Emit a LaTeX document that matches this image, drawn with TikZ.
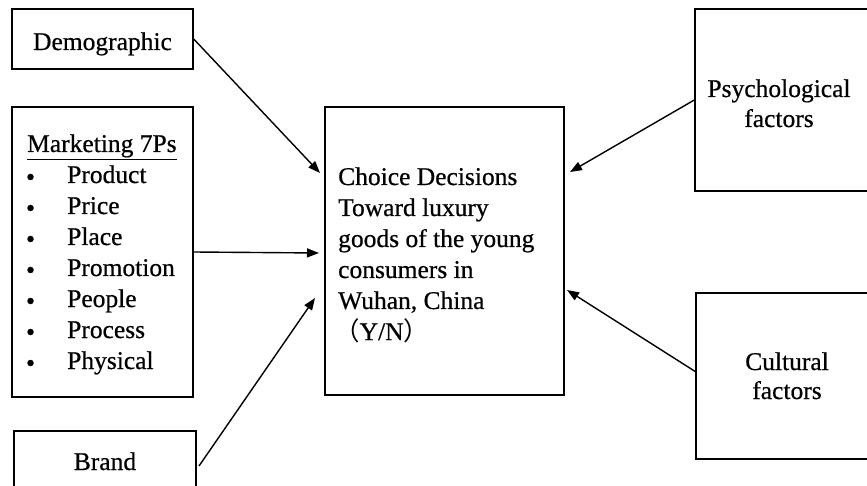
\documentclass[tikz,border=0pt]{standalone}
\usepackage{fontspec}
\setmainfont[FakeBold=0.6]{Liberation Serif}
\newfontfamily\cjkfont{Noto Sans CJK SC}
\usetikzlibrary{arrows.meta}
\tikzset{
  box/.style={draw=black, line width=1.4pt, fill=white, inner sep=0pt, minimum width=#1},
  lbl/.style={inner sep=0pt, text=black, font=\fontsize{25.5}{31}\selectfont},
  dot/.style={circle, fill=black, inner sep=0pt, minimum size=6.5pt},
  conn/.style={line width=1.4pt, -{Triangle[length=12pt,width=9pt]}},
}
\begin{document}
\begin{tikzpicture}[x=1pt,y=-1pt]
\useasboundingbox[fill=white] (0,0) rectangle (867,486);
% boxes
\node[box=181pt, minimum height=60pt] (demo) at (102.5,39) {};
\node[box=181pt, minimum height=290pt] (mkt) at (102.5,252) {};
\node[box=182pt, minimum height=79pt] (brand) at (105,470.5) {};
\node[box=239pt, minimum height=288pt] (ctr) at (444.5,251) {};
\node[box=180pt, minimum height=182pt] (psych) at (785,100) {};
\node[box=180pt, minimum height=166pt] (cult) at (786,376) {};
% texts
\node[lbl, anchor=base] (demot) at (102.5,50) {Demographic};
\node[lbl, anchor=base] (brandt) at (105,470) {Brand};
\node[lbl, anchor=base west] (mkth) at (27,152) {\underline{Marketing 7Ps}};
\foreach \t [count=\i] in {Product,Price,Place,Promotion,People,Process,Physical}{
  \node[dot] (bul\i) at (30.5,146+31*\i) {};
  \node[lbl, anchor=base west] (item\i) at (67,152+31*\i) {\t};
}
\node[lbl, anchor=base west] (ctrt) at (338,185) {\begin{tabular}[t]{@{}l@{}}
Choice Decisions\\
Toward luxury\\
goods of the young\\
consumers in\\
Wuhan, China\\
\hspace*{-4pt}{\cjkfont （}Y/N{\cjkfont ）}
\end{tabular}};
\node[lbl, anchor=base] (psycht1) at (779,97) {Psychological};
\node[lbl, anchor=base] (psycht2) at (779,127) {factors};
\node[lbl, anchor=base] (cultt1) at (787,370) {Cultural};
\node[lbl, anchor=base] (cultt2) at (787,399) {factors};
% connector ends
\coordinate (t1) at (320,173);
\coordinate (t2) at (319,253);
\coordinate (s3) at (199,466);
\coordinate (t3) at (315,298);
\coordinate (t4) at (570,172);
\coordinate (s5) at (696,372);
\coordinate (t5) at (567,290);
% connectors
\draw[conn] (demo.east) -- (t1);
\draw[conn] (mkt.east) -- (t2);
\draw[conn] (s3) -- (t3);
\draw[conn] (psych.west) -- (t4);
\draw[conn] (s5) -- (t5);
\end{tikzpicture}
\end{document}
